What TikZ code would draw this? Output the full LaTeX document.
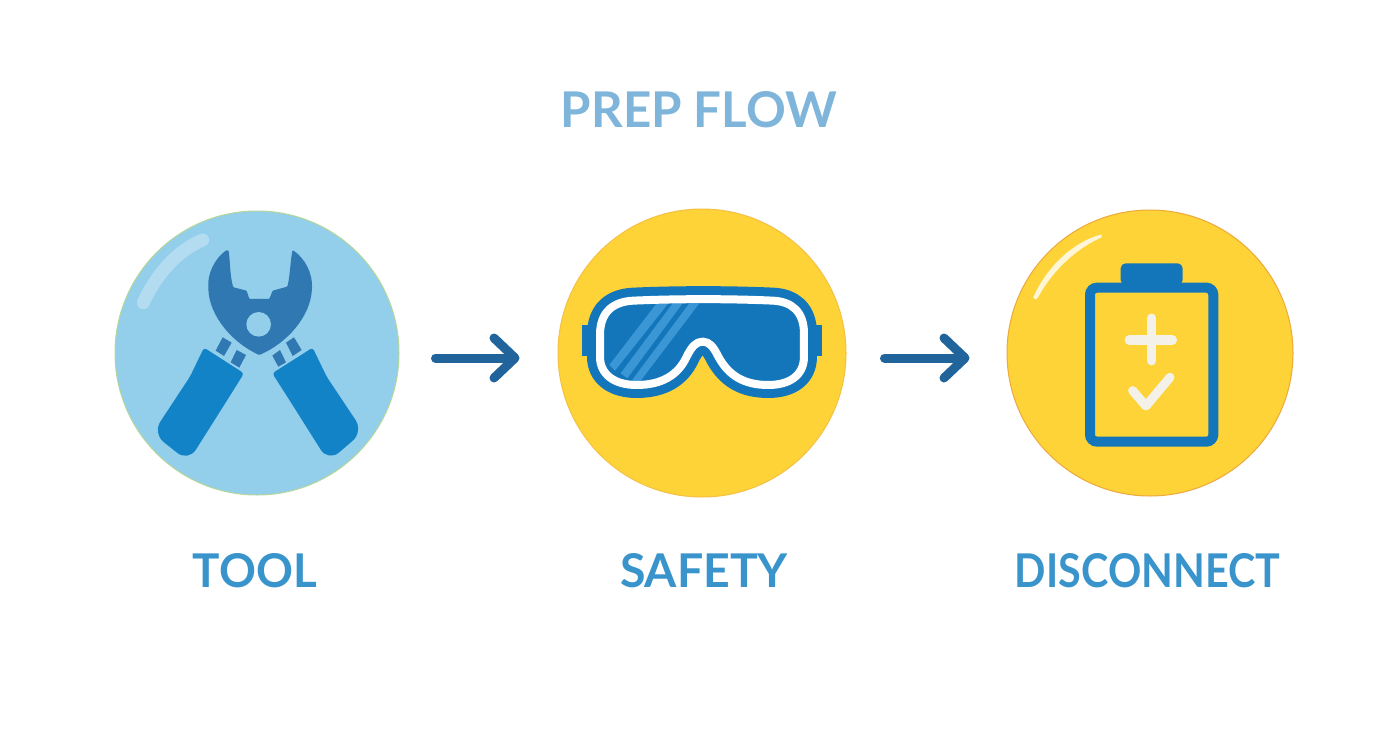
\documentclass[tikz,border=0pt]{standalone}
\usepackage{fontspec}
\usepackage{graphicx}
\setmainfont{Lato}
\usetikzlibrary{arrows.meta,calc}
\definecolor{toolfill}{HTML}{93CEEB}
\definecolor{tooledge}{HTML}{B5D79A}
\definecolor{yel}{HTML}{FDD338}
\definecolor{yeledge}{HTML}{F5C044}
\definecolor{yeledgeb}{HTML}{EDA93C}
\definecolor{headblue}{HTML}{2F78B2}
\definecolor{gripblue}{HTML}{1283C6}
\definecolor{iconblue}{HTML}{1476BA}
\definecolor{stripe}{HTML}{3B96D5}
\definecolor{flowblue}{HTML}{21649B}
\definecolor{labelblue}{HTML}{3A94CC}
\definecolor{titleblue}{HTML}{7FB5DA}
\definecolor{offwhite}{HTML}{F4F2E8}
\newcommand{\fitlabel}[3]{\resizebox{#1pt}{#2pt}{\bfseries #3}}
\tikzset{
  x=1pt,y=-1pt,
  badge/.style={circle,inner sep=0pt,minimum size=#1,line width=1pt},
  caption/.style={text=labelblue,inner sep=0pt,anchor=base},
  flowarrow/.style={draw=flowblue,line width=9pt,line cap=round,line join=round,
     -{Straight Barb[length=21pt,width=40pt,line width=9pt,round]}},
  zoomone/.style={shift={(100,200)},x=0.3333pt,y=-0.3333pt},
  zoomtwo/.style={shift={(550,250)},x=0.3333pt,y=-0.3333pt},
  zoomthree/.style={shift={(1000,200)},x=0.3333pt,y=-0.3333pt},
}
\begin{document}
\begin{tikzpicture}
\useasboundingbox[fill=white] (0,0) rectangle (1392,752);
\node[text=titleblue,inner sep=0pt,anchor=base] (title) at (699,128) {\fitlabel{276}{36}{PREP FLOW}};
\node[badge=284pt,fill=toolfill,draw=tooledge] (c1) at (257,353) {};
\node[badge=288pt,fill=yel,draw=yeledge] (c2) at (702,353) {};
\node[badge=286pt,fill=yel,draw=yeledgeb] (c3) at (1150,353) {};
\node[caption] (l1) at (255,587) {\fitlabel{124}{34}{TOOL}};
\node[caption] (l2) at (704,587) {\fitlabel{168}{34}{SAFETY}};
\node[caption] (l3) at (1147.5,587) {\fitlabel{265}{34}{DISCONNECT}};
\draw[flowarrow] ([shift={(36pt,-5pt)}]c1.east) -- ([shift={(-38pt,-5pt)}]c2.west);
\draw[flowarrow] ([shift={(38pt,-5pt)}]c2.east) -- ([shift={(-37pt,-5pt)}]c3.west);
% tool icon
\begin{scope}[zoomone]
\draw[white,opacity=.3,line width=13pt,line cap=round] (308,120) .. controls (235,150) and (170,220) .. (130,308);
\fill[headblue,rounded corners=1pt] (380,150) .. controls (345,175) and (322,220) .. (325,265) .. controls (328,350) and (400,430) .. (478,465) .. controls (560,430) and (632,350) .. (636,265) .. controls (638,220) and (615,175) .. (578,150) .. controls (572,175) and (570,230) .. (562,260) -- (518,272) -- (508,297) -- (448,297) -- (440,272) -- (400,262) .. controls (390,230) and (390,180) .. (386,152) -- cycle;
\fill[toolfill] (476,373) circle (12.3pt);
\fill[headblue] (368,412)--(395,428)--(372,468)--(347,452)--cycle;
\fill[headblue] (410,450)--(438,465)--(418,503)--(392,487)--cycle;
\fill[headblue] (558,428)--(582,412)--(605,450)--(578,468)--cycle;
\fill[headblue] (517,467)--(540,450)--(558,487)--(535,500)--cycle;
\fill[gripblue,rounded corners=3pt] (312,443) -- (432,520) -- (385,595) [rounded corners=14pt] -- (265,785) -- (158,700) [rounded corners=3pt] -- (270,530) -- cycle;
\fill[gripblue,rounded corners=3pt] (638,443) -- (517,520) -- (565,595) [rounded corners=14pt] -- (685,785) -- (790,695) [rounded corners=3pt] -- (680,530) -- cycle;
\end{scope}
% goggles icon
\begin{scope}[zoomtwo]
\fill[iconblue] (97,225) rectangle (125,318);
\fill[iconblue] (785,225) rectangle (815,318);
\def\lensP{(150,255) .. controls (150,185) and (190,155) .. (250,152) .. controls (380,146) and (540,146) .. (670,152) .. controls (725,155) and (762,185) .. (762,250) -- (762,320) .. controls (762,375) and (720,405) .. (655,405) .. controls (580,405) and (535,375) .. (505,320) .. controls (490,290) and (478,275) .. (458,275) .. controls (438,275) and (425,290) .. (410,320) .. controls (385,375) and (335,405) .. (260,405) .. controls (195,405) and (150,375) .. (150,320) -- cycle}
\draw[iconblue,line width=26pt,line join=round] \lensP;
\fill[iconblue] \lensP;
\begin{scope}
\clip \lensP;
\fill[stripe] (320,160)--(355,160)--(195,362)--(178,345)--cycle;
\fill[stripe] (368,160)--(398,160)--(232,385)--(212,370)--cycle;
\fill[stripe] (418,160)--(448,160)--(270,395)--(245,392)--cycle;
\end{scope}
\draw[white,line width=8pt,line join=round] \lensP;
\end{scope}
% battery icon
\begin{scope}[zoomthree]
\fill[white,opacity=.8] (305,103) .. controls (220,125) and (140,200) .. (100,292) .. controls (105,303) and (112,297) .. (118,285) .. controls (160,210) and (230,145) .. (305,112) -- cycle;
\fill[iconblue,rounded corners=5pt] (362,255) -- (362,190) -- (548,190) -- (548,255) -- cycle;
\draw[iconblue,line width=10pt,rounded corners=7pt] (270,263) rectangle (640,725);
\draw[offwhite,line width=9.5pt,line cap=round] (455,355) -- (455,482);
\draw[offwhite,line width=9.5pt,line cap=round] (388,420) -- (517,420);
\draw[offwhite,line width=9pt,line cap=round,line join=round] (398,572) -- (438,618) -- (510,532);
\end{scope}
\end{tikzpicture}
\end{document}
